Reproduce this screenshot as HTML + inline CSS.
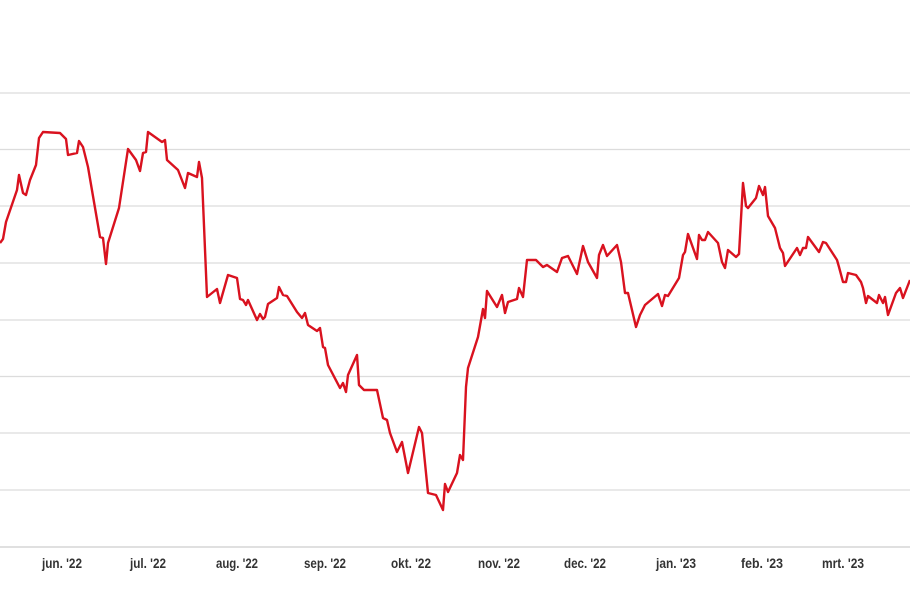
<!DOCTYPE html>
<html><head><meta charset="utf-8"><style>
html,body{margin:0;padding:0;background:#fff;width:910px;height:596px;overflow:hidden}
svg text{font-family:"Liberation Sans",sans-serif;font-size:14px;fill:#333;font-weight:bold}
</style></head><body>
<svg width="910" height="596" viewBox="0 0 910 596" xmlns="http://www.w3.org/2000/svg">
<g stroke="#dcdcdc" stroke-width="1.3">
<line x1="0" x2="910" y1="93" y2="93"/><line x1="0" x2="910" y1="149.5" y2="149.5"/>
<line x1="0" x2="910" y1="206" y2="206"/><line x1="0" x2="910" y1="263" y2="263"/>
<line x1="0" x2="910" y1="320" y2="320"/><line x1="0" x2="910" y1="376.5" y2="376.5"/>
<line x1="0" x2="910" y1="433" y2="433"/><line x1="0" x2="910" y1="490" y2="490"/>
<line x1="0" x2="910" y1="547" y2="547" stroke="#d6d6d6" stroke-width="1.6"/>
</g>
<g text-anchor="middle">
<text x="-17" y="568" textLength="34" lengthAdjust="spacingAndGlyphs">mei '22</text>
<text x="62" y="568" textLength="40" lengthAdjust="spacingAndGlyphs">jun. '22</text>
<text x="148" y="568" textLength="36" lengthAdjust="spacingAndGlyphs">jul. '22</text>
<text x="237" y="568" textLength="42" lengthAdjust="spacingAndGlyphs">aug. '22</text>
<text x="325" y="568" textLength="42" lengthAdjust="spacingAndGlyphs">sep. '22</text>
<text x="411" y="568" textLength="40" lengthAdjust="spacingAndGlyphs">okt. '22</text>
<text x="499" y="568" textLength="42" lengthAdjust="spacingAndGlyphs">nov. '22</text>
<text x="585" y="568" textLength="42" lengthAdjust="spacingAndGlyphs">dec. '22</text>
<text x="676" y="568" textLength="40" lengthAdjust="spacingAndGlyphs">jan. '23</text>
<text x="762" y="568" textLength="42" lengthAdjust="spacingAndGlyphs">feb. '23</text>
<text x="843" y="568" textLength="42" lengthAdjust="spacingAndGlyphs">mrt. '23</text>
</g>
<polyline fill="none" stroke="#d9121f" stroke-width="2.4" stroke-linejoin="round" points="0,243 3,239 6,222 17,190 19,175 23,193 26,195 30,180 36,165 39,138 43,132 60,133 66,139 68,155 77,153 79,141 83,147 88,167 100,237 103,238 106,264 108,243 119,208 128,149 136,160 140,171 143,153 146,152 148,132 162,142 165,140 167,160 178,170 185,188 188,173 197,177 199,162 202,178 207,297 217,289 220,303 228,275 237,278 240,299 243,300 246,305 248,300 257,320 260,314 263,319 265,317 268,304 277,298 279,287 283,295 287,296 297,312 302,318 305,313 308,325 317,331 320,328 323,347 325,348 328,365 340,388 343,383 346,392 348,375 357,355 359,385 364,390 377,390 383,418 387,420 390,433 397,452 402,442 408,473 419,427 422,433 428,493 436,495 443,510 445,484 448,492 457,473 460,455 463,460 466,387 468,368 478,337 483,309 485,318 487,291 497,307 502,295 505,313 508,302 517,299 519,288 523,297 527,260 536,260 543,267 547,265 557,272 562,258 568,256 577,274 583,246 588,262 597,278 599,255 603,245 607,256 617,245 621,262 625,293 628,293 636,327 640,315 645,305 658,294 662,306 665,295 668,296 679,278 683,255 685,252 688,234 697,259 699,235 702,240 705,240 708,232 718,243 722,262 725,268 728,250 736,257 739,254 743,183 746,206 748,208 756,198 759,186 763,195 765,187 768,216 775,228 780,248 783,253 785,266 795,251 797,248 800,255 803,248 806,248 808,237 819,252 823,242 826,243 837,260 839,267 843,282 846,282 848,273 856,275 861,282 863,288 866,303 868,296 877,303 879,295 883,303 885,297 888,315 896,293 900,288 903,298 910,280"/>
</svg>
</body></html>
